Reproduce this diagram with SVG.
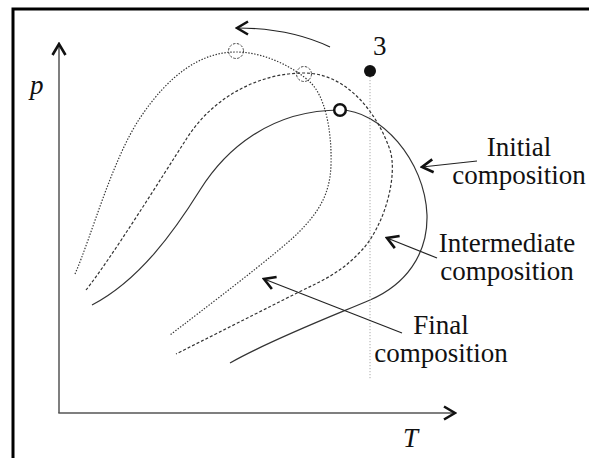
<svg xmlns="http://www.w3.org/2000/svg" width="589" height="458" viewBox="0 0 589 458">
<style>
.lbl{font-family:"Liberation Serif","Times New Roman",serif;font-size:27px;fill:#111}
.it{font-style:italic}
.curve{fill:none;stroke:#333;stroke-width:1.2}
.dot{stroke-dasharray:1.4 1.6}
.dash{stroke-dasharray:3 2}
.ptr{fill:none;stroke:#222;stroke-width:1.2}
</style>
<defs>
<marker id="chev" markerUnits="userSpaceOnUse" viewBox="-14 -9 16 18" refX="0" refY="0" markerWidth="16" markerHeight="18" orient="auto">
<path d="M-11,-6.5 L0,0 L-11,6.5" fill="none" stroke="#111" stroke-width="2.6"/>
</marker>
</defs>
<rect width="589" height="458" fill="#fff"/>
<g id="frame">
<path d="M13,458 V9 H589" fill="none" stroke="#000" stroke-width="3"/>
</g>
<g id="axes">
<line x1="59" y1="413" x2="59" y2="44" stroke="#555" stroke-width="1.5" marker-end="url(#chev)"/>
<line x1="58.3" y1="413" x2="455" y2="413" stroke="#555" stroke-width="1.5" marker-end="url(#chev)"/>
<text class="lbl it" x="30" y="94">p</text>
<text class="lbl it" x="403" y="447">T</text>
</g>
<g id="curve-initial">
<path class="curve" d="M92,305 C140,280 175,230 200,190 C225,150 270,110 340,110 C380,110 425,160 427,215 C428,255 405,285 370,300 C335,315 270,340 230,363"/>
</g>
<g id="curve-intermediate">
<path class="curve dash" d="M86,290 C110,260 160,180 187,138 C214,96 260,73 304,73 C348,73 378,115 390,150 C398,175 385,225 362,250 C340,274 321,281 297,293 C273,305 200,342 176,354"/>
</g>
<g id="curve-final">
<path class="curve dot" d="M75,274 C92,235 112,160 140,118 C168,76 200,52 236,52 C265,52 295,68 310,82 C325,96 332,130 331,165 C330,195 318,213 298,233 C278,253 200,312 170,335"/>
</g>
<g id="point-3">
<line x1="370" y1="77" x2="370" y2="379" stroke="#aaa" stroke-width="1" stroke-dasharray="1.2 1.8"/>
<circle cx="370" cy="71" r="6" fill="#111"/>
<text class="lbl" x="373" y="55">3</text>
</g>
<g id="crit-initial">
<circle cx="340" cy="110" r="5.8" fill="#fff" stroke="#111" stroke-width="2.5"/>
</g>
<g id="crit-intermediate">
<circle cx="304" cy="74" r="7.5" fill="none" stroke="#444" stroke-width="1" stroke-dasharray="2.5 1.5"/>
</g>
<g id="crit-final">
<circle cx="236" cy="51" r="7.5" fill="none" stroke="#444" stroke-width="1" stroke-dasharray="2.5 1.5"/>
</g>
<g id="connectors">
<path class="ptr" d="M330,47 Q290,28 237,28" marker-end="url(#chev)"/>
<line class="ptr" x1="477" y1="161" x2="422" y2="167" marker-end="url(#chev)"/>
<line class="ptr" x1="437" y1="258" x2="387" y2="238" marker-end="url(#chev)"/>
<line class="ptr" x1="402" y1="333" x2="264" y2="279" marker-end="url(#chev)"/>
</g>
<g id="label-initial">
<text class="lbl" x="519" y="156" text-anchor="middle">Initial</text>
<text class="lbl" x="519" y="184" text-anchor="middle">composition</text>
</g>
<g id="label-intermediate">
<text class="lbl" x="507" y="252" text-anchor="middle">Intermediate</text>
<text class="lbl" x="507" y="280" text-anchor="middle">composition</text>
</g>
<g id="label-final">
<text class="lbl" x="441" y="334" text-anchor="middle">Final</text>
<text class="lbl" x="441" y="362" text-anchor="middle">composition</text>
</g>
</svg>
